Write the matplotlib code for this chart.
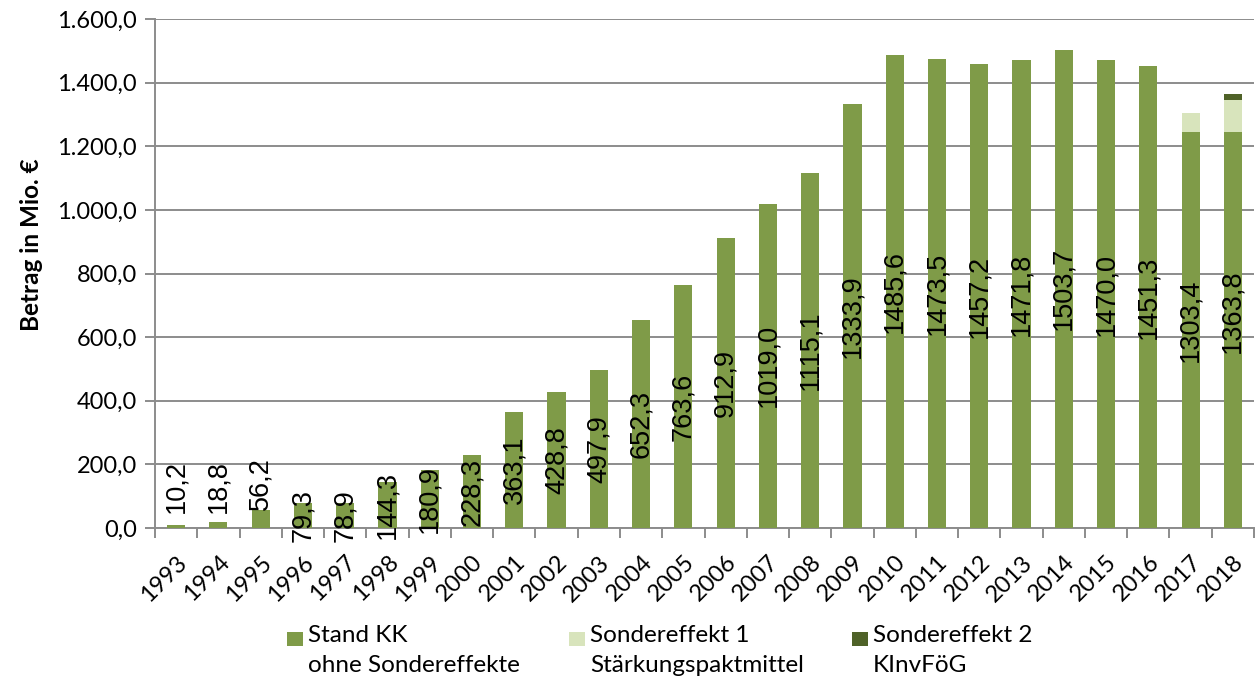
import matplotlib
matplotlib.use("Agg")
import matplotlib.pyplot as plt
from matplotlib.patches import Rectangle
import numpy as np

years = ["1993", "1994", "1995", "1996", "1997", "1998", "1999", "2000", "2001",
         "2002", "2003", "2004", "2005", "2006", "2007", "2008", "2009", "2010",
         "2011", "2012", "2013", "2014", "2015", "2016", "2017", "2018"]
stand_kk = [10.2, 18.8, 56.2, 79.3, 78.9, 144.3, 180.9, 228.3, 363.1, 428.8,
            497.9, 652.3, 763.6, 912.9, 1019.0, 1115.1, 1333.9, 1485.6, 1473.5,
            1457.2, 1471.8, 1503.7, 1470.0, 1451.3, 1243.4, 1243.4]
sondereffekt1 = [0] * 24 + [60.0, 103.5]
sondereffekt2 = [0] * 25 + [16.9]
totals = [10.2, 18.8, 56.2, 79.3, 78.9, 144.3, 180.9, 228.3, 363.1, 428.8,
          497.9, 652.3, 763.6, 912.9, 1019.0, 1115.1, 1333.9, 1485.6, 1473.5,
          1457.2, 1471.8, 1503.7, 1470.0, 1451.3, 1303.4, 1363.8]
series_labels = ["Stand KK\nohne Sondereffekte",
                 "Sondereffekt 1\nStärkungspaktmittel",
                 "Sondereffekt 2\nKInvFöG"]
yticks = [0, 200, 400, 600, 800, 1000, 1200, 1400, 1600]
ytick_labels = ["0,0", "200,0", "400,0", "600,0", "800,0", "1.000,0",
                "1.200,0", "1.400,0", "1.600,0"]

c_base = "#7F9B48"
c_se1 = "#D8E4BC"
c_se2 = "#4F6228"
grid_c = "#8C8C8C"

tick_font = "Lato"
fs = 17
fig = plt.figure(figsize=(12.56, 6.84), dpi=100)
ax = fig.add_axes([155 / 1256, 1 - 528 / 684, (1254 - 155) / 1256, (528 - 19) / 684])

x = np.arange(len(years))
w = 0.43
b1 = np.array(stand_kk)
b2 = b1 + np.array(sondereffekt1)
ax.bar(x, stand_kk, w, color=c_base, zorder=3)
ax.bar(x, sondereffekt1, w, bottom=b1, color=c_se1, zorder=3)
ax.bar(x, sondereffekt2, w, bottom=b2, color=c_se2, zorder=3)

for xi, t in zip(x, totals):
    lab = f"{t:.1f}".replace(".", ",")
    if t < 60:
        ax.text(xi, max(t, 45) + 1, lab, rotation=90, ha="center", va="bottom",
                fontsize=19.5, family="Liberation Sans", zorder=4, clip_on=False)
    else:
        ax.text(xi, t / 2, lab, rotation=90, ha="center", va="center",
                fontsize=19.5, family="Liberation Sans", zorder=4, clip_on=False)

ax.set_xlim(-0.5, len(years) - 0.5)
ax.set_ylim(0, 1600)
ax.set_yticks(yticks)
ax.set_yticklabels(ytick_labels, family=tick_font, fontsize=fs)
ax.yaxis.grid(True, color=grid_c, linewidth=1.4, zorder=0)
ax.set_axisbelow(True)

ax.set_xticks(x)
ax.set_xticklabels(years, rotation=45, ha="right", va="top", rotation_mode="anchor",
                   family=tick_font, fontsize=fs)
ax.set_xticks(np.arange(len(years) + 1) - 0.5, minor=True)
ax.tick_params(axis="x", which="major", length=0, pad=17)
ax.tick_params(axis="x", which="minor", length=7, width=1.4, color=grid_c)
ax.tick_params(axis="y", length=7, width=1.4, color=grid_c, pad=6)

for s in ["top", "right"]:
    ax.spines[s].set_visible(False)
for s in ["left", "bottom"]:
    ax.spines[s].set_color(grid_c)
    ax.spines[s].set_linewidth(1.4)

fig.text(32 / 1256, 1 - 245 / 684, "Betrag in Mio. €", family=tick_font, fontsize=17.5,
         fontweight="bold", rotation=90, ha="center", va="center")

# legend
leg_x = [287, 569, 852]
colors = [c_base, c_se1, c_se2]
for lx, col, lab in zip(leg_x, colors, series_labels):
    fig.patches.append(Rectangle((lx / 1256, 1 - 646 / 684), 16 / 1256, 14 / 684,
                                 transform=fig.transFigure, facecolor=col,
                                 edgecolor="none"))
    fig.text((lx + 21) / 1256, 1 - 625 / 684, lab, family=tick_font, fontsize=17.5,
             ha="left", va="top", linespacing=1.5)

fig.savefig("out.png", dpi=100)
